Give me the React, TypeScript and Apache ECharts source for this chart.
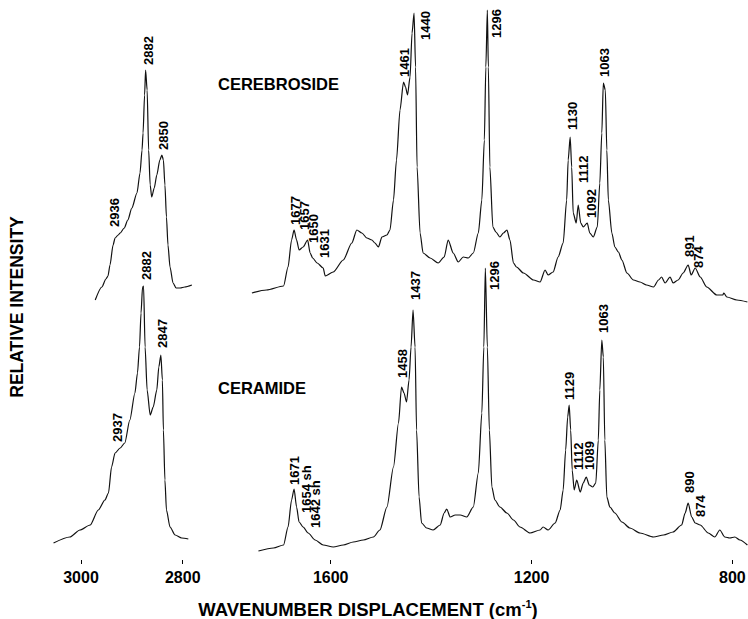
import React, { useEffect, useRef } from 'react';
import * as echarts from 'echarts';

// Raman spectra: [wavenumber displacement (cm-1), relative intensity (arb. units above own baseline)]
const cerebrosideCH: number[][] = [
  [2972, 0], [2959, 13], [2951, 21], [2947, 24], [2943, 35], [2937, 55], [2933, 62], [2927, 65], [2923, 67],
  [2915, 72], [2908, 80], [2900, 92], [2890, 107], [2884, 127], [2880, 150], [2878, 167], [2875, 205], [2873, 230],
  [2870, 210], [2867, 150], [2864, 115], [2861, 103], [2856, 112], [2851, 125], [2845, 140], [2841, 145], [2838, 140],
  [2835, 115], [2832, 83], [2829, 55], [2825, 33], [2819, 17], [2813, 12], [2805, 12], [2796, 13], [2782, 15],
];

const ceramideCH: number[][] = [
  [3054, 17], [3022, 23], [3002, 30], [2982, 35], [2966, 50], [2953, 60], [2946, 67], [2940, 93], [2933, 107],
  [2923, 112], [2914, 117], [2904, 140], [2894, 167], [2889, 187], [2885, 213], [2882, 247], [2879, 273], [2877, 274],
  [2874, 213], [2870, 170], [2864, 145], [2858, 153], [2851, 170], [2847, 193], [2843, 205], [2840, 180], [2838, 130],
  [2835, 80], [2832, 50], [2825, 33], [2815, 25], [2802, 22], [2789, 21],
];

const cerebrosideFP: number[][] = [
  [1757, 7], [1728, 10], [1694, 14], [1685, 33], [1678, 60], [1673, 70], [1668, 60], [1663, 50], [1655, 53],
  [1646, 60], [1641, 47], [1636, 42], [1627, 37], [1615, 32], [1611, 24], [1595, 28], [1575, 40], [1558, 57],
  [1548, 70], [1538, 67], [1528, 62], [1518, 60], [1512, 57], [1505, 53], [1498, 63], [1488, 65], [1482, 70],
  [1475, 100], [1469, 140], [1462, 190], [1455, 218], [1451, 213], [1447, 205], [1442, 223], [1438, 267], [1434, 287],
  [1431, 233], [1428, 133], [1422, 67], [1416, 47], [1402, 42], [1386, 37], [1374, 43], [1366, 60], [1356, 47],
  [1346, 38], [1336, 43], [1326, 42], [1316, 47], [1306, 67], [1299, 100], [1294, 160], [1291, 233], [1288, 290],
  [1286, 233], [1283, 133], [1277, 73], [1271, 68], [1263, 63], [1256, 67], [1249, 70], [1243, 60], [1236, 37],
  [1230, 33], [1216, 27], [1196, 20], [1183, 18], [1173, 30], [1167, 25], [1157, 28], [1147, 43], [1137, 57],
  [1130, 100], [1127, 140], [1123, 163], [1120, 133], [1117, 87], [1111, 77], [1107, 95], [1102, 77], [1097, 73],
  [1089, 77], [1084, 67], [1077, 63], [1069, 73], [1064, 117], [1060, 167], [1057, 217], [1053, 210], [1050, 150],
  [1047, 100], [1040, 67], [1034, 53], [1027, 48], [1020, 40], [1010, 27], [997, 20], [984, 18], [971, 15],
  [957, 13], [947, 20], [941, 23], [934, 17], [924, 23], [918, 17], [908, 20], [898, 27], [888, 35], [882, 25],
  [874, 32], [864, 23], [851, 13], [831, 5], [819, 5], [817, 7], [811, 3], [791, 0], [770, -2],
];

const ceramideFP: number[][] = [
  [1744, 9], [1714, 12], [1694, 15], [1685, 33], [1678, 60], [1673, 71], [1668, 53], [1663, 38], [1655, 33],
  [1645, 27], [1631, 20], [1615, 15], [1595, 13], [1575, 15], [1555, 18], [1535, 20], [1515, 23], [1502, 30],
  [1488, 53], [1475, 93], [1465, 137], [1459, 173], [1454, 167], [1449, 158], [1444, 180], [1440, 213], [1436, 250],
  [1432, 213], [1429, 130], [1424, 63], [1419, 37], [1409, 32], [1396, 30], [1382, 35], [1374, 47], [1369, 51],
  [1362, 43], [1352, 45], [1342, 45], [1329, 43], [1316, 53], [1306, 87], [1299, 147], [1295, 213], [1292, 292],
  [1288, 213], [1284, 130], [1279, 73], [1273, 60], [1263, 53], [1249, 47], [1236, 40], [1223, 33], [1203, 27],
  [1183, 30], [1177, 33], [1167, 30], [1153, 37], [1143, 50], [1137, 70], [1132, 110], [1128, 143], [1125, 155],
  [1122, 130], [1119, 90], [1115, 70], [1110, 80], [1103, 68], [1097, 77], [1091, 83], [1085, 75], [1078, 73],
  [1072, 77], [1067, 120], [1064, 170], [1060, 220], [1057, 203], [1054, 120], [1050, 63], [1044, 53], [1034, 47],
  [1020, 38], [1004, 32], [984, 27], [957, 23], [937, 25], [918, 28], [901, 35], [894, 47], [888, 57], [881, 43],
  [874, 37], [864, 35], [848, 27], [835, 23], [825, 30], [815, 23], [805, 22], [795, 23], [785, 20], [770, 15],
];

// Peak annotations: text, wavenumber position, intensity at the label's lower end
const cerebrosideLabelText = ['2936', '2882', '2850', '1677', '1657', '1650', '1631', '1461', '1440', '1296', '1130', '1112', '1092', '1063', '891', '874'];
const cerebrosideLabelWn = [2935, 2868, 2837, 1671, 1653, 1635, 1613, 1453, 1412, 1269, 1119, 1097, 1081, 1054, 886, 868];
const cerebrosideLabelInt = [73, 235, 150, 75, 70, 57, 42, 223, 260, 262, 170, 117, 82, 223, 43, 32];

const ceramideLabelText = ['2882', '2937', '2847', '1671', '1654 sh', '1642 sh', '1458', '1437', '1296', '1129', '1112', '1089', '1063', '890', '874'];
const ceramideLabelWn = [2872, 2928, 2839, 1673, 1649, 1631, 1458, 1432, 1273, 1125, 1107, 1084, 1056, 886, 864];
const ceramideLabelInt = [280, 118, 212, 75, 47, 32, 182, 260, 270, 160, 90, 90, 227, 67, 43];

const highTicks = [2800, 3000];
const lowTicks = [800, 1200, 1600];

const CEREBROSIDE_OFFSET = 260;
const CERAMIDE_OFFSET = 0;

const FONT = "'Liberation Sans', Arial, Helvetica, sans-serif";

export default function App() {
  const ref = useRef<HTMLDivElement>(null);

  useEffect(() => {
    const chart = echarts.init(ref.current as HTMLDivElement, null, { renderer: 'svg' });
    const shift = (arr: number[][], off: number) => arr.map(([x, y]) => [x, y + off]);
    const lineStyle = { color: '#111', width: 1.2 };
    const axisCommon = {
      type: 'value' as const,
      inverse: true,
      axisLine: { show: false },
      splitLine: { show: false },
    };
    const lineSeries = (data: number[][], idx: number) => ({
      type: 'line',
      xAxisIndex: idx,
      yAxisIndex: idx,
      data,
      showSymbol: false,
      symbol: 'none',
      smooth: 0.25,
      smoothMonotone: 'x',
      lineStyle,
      silent: true,
    });
    const tickLabel = (vals: number[]) => ({
      customValues: vals,
      color: '#000',
      fontSize: 16,
      fontWeight: 'bold',
      fontFamily: FONT,
      margin: 9,
      formatter: (v: number) => String(v),
    });

    chart.setOption({
      animation: false,
      backgroundColor: '#ffffff',
      grid: [
        { left: 50.5, top: 0, width: 142.4, height: 560, containLabel: false, outerBoundsMode: 'none' },
        { left: 250.4, top: 0, width: 497, height: 560, containLabel: false, outerBoundsMode: 'none' },
      ],
      xAxis: [
        {
          ...axisCommon,
          gridIndex: 0,
          min: 2780,
          max: 3060,
          axisTick: { show: true, customValues: highTicks, length: 4, lineStyle: { color: '#000', width: 1 } },
          axisLabel: tickLabel(highTicks),
        },
        {
          ...axisCommon,
          gridIndex: 1,
          min: 770,
          max: 1760,
          axisTick: { show: true, customValues: lowTicks, length: 4, lineStyle: { color: '#000', width: 1 } },
          axisLabel: tickLabel(lowTicks),
        },
      ],
      yAxis: [
        { type: 'value', gridIndex: 0, min: 0, max: 560, show: false },
        { type: 'value', gridIndex: 1, min: 0, max: 560, show: false },
      ],
      series: [
        lineSeries(shift(cerebrosideCH, CEREBROSIDE_OFFSET), 0),
        lineSeries(shift(ceramideCH, CERAMIDE_OFFSET), 0),
        lineSeries(shift(cerebrosideFP, CEREBROSIDE_OFFSET), 1),
        lineSeries(shift(ceramideFP, CERAMIDE_OFFSET), 1),
      ],
    });

    const graphics: any[] = [];
    const addLabels = (texts: string[], wns: number[], ints: number[], off: number) => {
      texts.forEach((t, k) => {
        const gi = wns[k] > 2000 ? 0 : 1;
        const p = chart.convertToPixel({ gridIndex: gi }, [wns[k], ints[k] + off]) as number[];
        graphics.push({
          type: 'text',
          x: p[0],
          y: p[1],
          rotation: Math.PI / 2,
          silent: true,
          style: {
            text: t,
            fill: '#000',
            fontSize: 13,
            fontWeight: 'bold',
            fontFamily: FONT,
            align: 'left',
            verticalAlign: 'middle',
          },
        });
      });
    };
    addLabels(cerebrosideLabelText, cerebrosideLabelWn, cerebrosideLabelInt, CEREBROSIDE_OFFSET);
    addLabels(ceramideLabelText, ceramideLabelWn, ceramideLabelInt, CERAMIDE_OFFSET);

    graphics.push(
      {
        type: 'text',
        x: 218,
        y: 84,
        silent: true,
        style: { text: 'CEREBROSIDE', fill: '#000', fontSize: 16.5, fontWeight: 'bold', fontFamily: FONT, align: 'left', verticalAlign: 'middle' },
      },
      {
        type: 'text',
        x: 218,
        y: 388,
        silent: true,
        style: { text: 'CERAMIDE', fill: '#000', fontSize: 16.5, fontWeight: 'bold', fontFamily: FONT, align: 'left', verticalAlign: 'middle' },
      },
      {
        type: 'text',
        x: 17,
        y: 307,
        rotation: Math.PI / 2,
        silent: true,
        style: { text: 'RELATIVE INTENSITY', fill: '#000', fontSize: 17.5, fontWeight: 'bold', fontFamily: FONT, align: 'center', verticalAlign: 'middle' },
      },
      {
        type: 'text',
        x: 368,
        y: 609,
        silent: true,
        style: {
          text: '{a|WAVENUMBER DISPLACEMENT (cm}{s|-1}{a|)}',
          align: 'center',
          verticalAlign: 'middle',
          rich: {
            a: { fontSize: 18.5, fontWeight: 'bold', fontFamily: FONT, fill: '#000', color: '#000', lineHeight: 22 },
            s: { fontSize: 11, fontWeight: 'bold', fontFamily: FONT, fill: '#000', color: '#000', lineHeight: 12, verticalAlign: 'top' },
          },
        },
      }
    );

    chart.setOption({ graphic: graphics });

    return () => {
      chart.dispose();
    };
  }, []);

  return <div ref={ref} style={{ position: 'absolute', left: 0, top: 0, width: 748, height: 619 }} />;
}
